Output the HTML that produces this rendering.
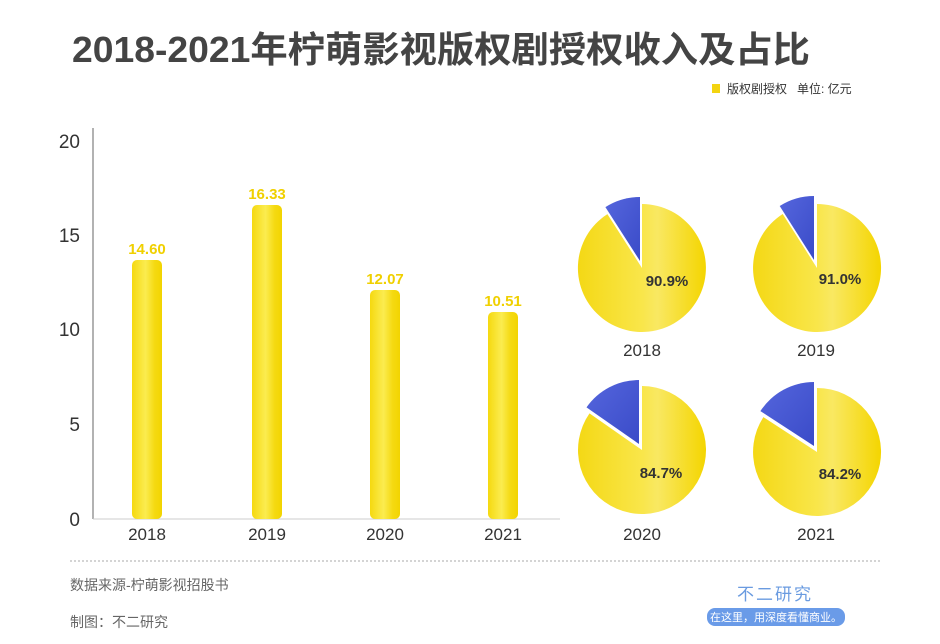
<!DOCTYPE html>
<html><head><meta charset="utf-8"><style>
body{margin:0;width:940px;height:644px;background:#fff;overflow:hidden;font-family:"Liberation Sans","Noto Sans CJK SC",sans-serif;}
</style></head><body>
<svg width="940" height="644" xmlns="http://www.w3.org/2000/svg" style="position:absolute;left:0;top:0">
<defs>
<linearGradient id="bar" x1="0" x2="1" y1="0" y2="0">
<stop offset="0" stop-color="#f5d90f"/><stop offset="0.45" stop-color="#fbec50"/><stop offset="0.75" stop-color="#f5da12"/><stop offset="1" stop-color="#f2d400"/></linearGradient>
<linearGradient id="pie" x1="0" x2="1" y1="0" y2="0">
<stop offset="0" stop-color="#f4d815"/><stop offset="0.5" stop-color="#f9e64a"/><stop offset="0.62" stop-color="#f9e862"/><stop offset="1" stop-color="#f4d500"/></linearGradient>
<linearGradient id="blue" x1="0" x2="1" y1="0" y2="1">
<stop offset="0" stop-color="#5566dd"/><stop offset="1" stop-color="#3a4bc8"/></linearGradient>
</defs>
<text x="72" y="62" font-size="36" font-weight="bold" fill="#444" textLength="738" lengthAdjust="spacingAndGlyphs" font-family="Liberation Sans,Noto Sans CJK SC,sans-serif">2018-2021年柠萌影视版权剧授权收入及占比</text>
<rect x="712" y="84" width="8" height="9" fill="#f3d411"/>
<text x="727" y="93" font-size="12" fill="#333">版权剧授权</text>
<text x="797" y="93" font-size="12" fill="#333">单位: 亿元</text>
<line x1="93" y1="128" x2="93" y2="519" stroke="#999" stroke-width="1.5"/>
<line x1="93" y1="519" x2="560" y2="519" stroke="#ccc" stroke-width="1"/>
<g font-size="19" fill="#333" text-anchor="end">
<text x="80" y="148">20</text><text x="80" y="242">15</text><text x="80" y="336">10</text><text x="80" y="431">5</text><text x="80" y="526">0</text>
</g>
<g fill="url(#bar)">
<rect x="132" y="260" width="30" height="259" rx="5"/>
<rect x="252" y="205" width="30" height="314" rx="5"/>
<rect x="370" y="290" width="30" height="229" rx="5"/>
<rect x="488" y="312" width="30" height="207" rx="5"/>
</g>
<g font-size="15" font-weight="bold" fill="#f0d000" text-anchor="middle">
<text x="147" y="254">14.60</text><text x="267" y="199">16.33</text><text x="385" y="284">12.07</text><text x="503" y="306">10.51</text>
</g>
<g font-size="17" fill="#333" text-anchor="middle">
<text x="147" y="540">2018</text><text x="267" y="540">2019</text><text x="385" y="540">2020</text><text x="503" y="540">2021</text>
</g>
<path d="M642,268 L642,204 A64,64 0 1 1 607.4,214.1 Z" fill="url(#pie)"/>
<path d="M640,261 L640,197 A64,64 0 0 0 605.4,207.1 Z" fill="url(#blue)"/>
<path d="M817,268 L817,204 A64,64 0 1 1 782.7,214 Z" fill="url(#pie)"/>
<path d="M814,260 L814,196 A64,64 0 0 0 779.7,206 Z" fill="url(#blue)"/>
<path d="M642,450 L642,386 A64,64 0 1 1 589.5,413.4 Z" fill="url(#pie)"/>
<path d="M639,444 L639,380 A64,64 0 0 0 586.5,407.4 Z" fill="url(#blue)"/>
<path d="M817,452 L817,388 A64,64 0 1 1 763.4,417.1 Z" fill="url(#pie)"/>
<path d="M814,446 L814,382 A64,64 0 0 0 760.4,411.1 Z" fill="url(#blue)"/>
<g font-size="15" font-weight="bold" fill="#333" text-anchor="middle">
<text x="667" y="286">90.9%</text><text x="840" y="284">91.0%</text><text x="661" y="478">84.7%</text><text x="840" y="479">84.2%</text>
</g>
<g font-size="17" fill="#333" text-anchor="middle">
<text x="642" y="356">2018</text><text x="816" y="356">2019</text><text x="642" y="540">2020</text><text x="816" y="540">2021</text>
</g>
<line x1="70" y1="561" x2="880" y2="561" stroke="#aaa" stroke-dasharray="2,2"/>
<text x="70" y="590" font-size="14" fill="#666">数据来源-柠萌影视招股书</text>
<text x="70" y="627" font-size="14" fill="#666">制图：不二研究</text>
<text x="775" y="600" font-size="17" fill="#6a9be0" text-anchor="middle" letter-spacing="2">不二研究</text>
<rect x="707" y="608" width="138" height="18" rx="8" fill="#6a9be8"/>
<text x="776" y="621" font-size="11" fill="#fff" text-anchor="middle">在这里，用深度看懂商业。</text>
</svg>
</body></html>
